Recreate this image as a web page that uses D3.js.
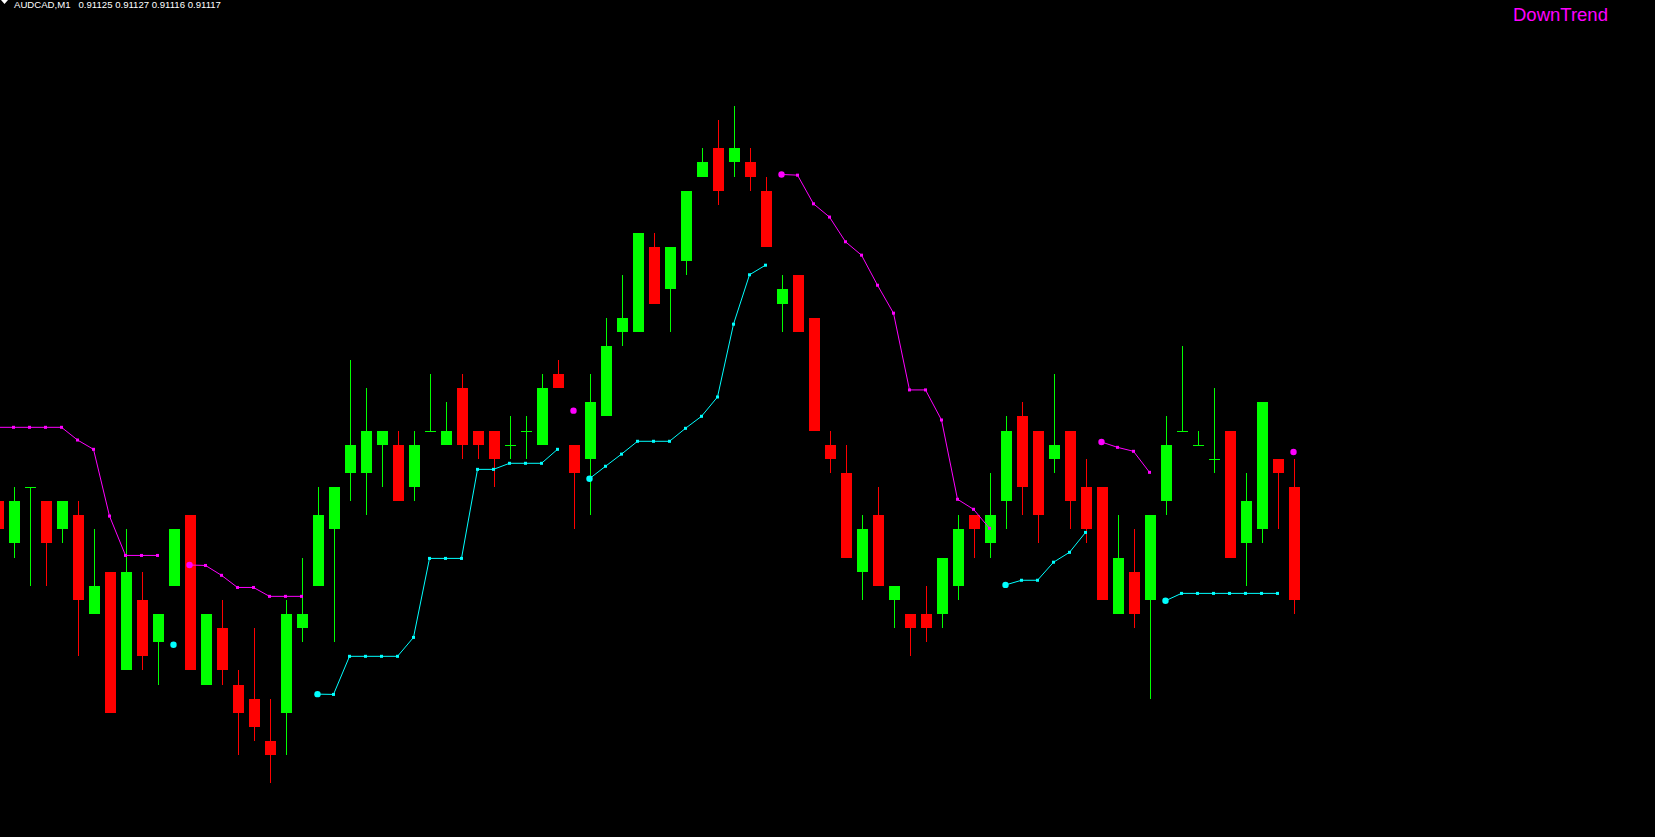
<!DOCTYPE html>
<html>
<head>
<meta charset="utf-8">
<script src="https://cdn.jsdelivr.net/npm/d3@7/dist/d3.min.js"></script>
<style>
  html, body { margin: 0; padding: 0; background: #000; overflow: hidden; }
  svg { display: block; }
</style>
</head>
<body>
<svg id="chart" width="1655" height="837"></svg>
<script>
// ---- data (prices, AUDCAD M1) ----
const symbolLabel = "AUDCAD,M1";
const lastOHLC = ["0.91125", "0.91127", "0.91116", "0.91117"];
const trendLabel = "DownTrend";

const opens = [0.91124,0.91121,0.91125,0.91124,0.91122,0.91123,0.91116,0.91119,0.91112,0.91117,
  0.91114,0.91118,0.91123,0.91111,0.91115,0.91111,0.91110,0.91107,0.91109,0.91115,
  0.91118,0.91122,0.91126,0.91126,0.91128,0.91128,0.91125,0.91129,0.91128,0.91132,
  0.91129,0.91129,0.91128,0.91129,0.91128,0.91133,0.91128,0.91127,0.91130,0.91136,
  0.91136,0.91142,0.91139,0.91141,0.91147,0.91149,0.91148,0.91148,0.91146,0.91138,
  0.91140,0.91137,0.91128,0.91126,0.91119,0.91123,0.91117,0.91116,0.91116,0.91116,
  0.91118,0.91123,0.91121,0.91124,0.91130,0.91129,0.91127,0.91129,0.91125,0.91125,
  0.91116,0.91119,0.91117,0.91124,0.91129,0.91128,0.91127,0.91129,0.91121,0.91122,
  0.91127,0.91125];
const highs = [0.91124,0.91125,0.91125,0.91124,0.91124,0.91124,0.91122,0.91119,0.91122,0.91119,
  0.91116,0.91122,0.91123,0.91116,0.91117,0.91112,0.91115,0.91110,0.91117,0.91120,
  0.91125,0.91125,0.91134,0.91132,0.91129,0.91129,0.91129,0.91133,0.91131,0.91133,
  0.91129,0.91129,0.91130,0.91130,0.91133,0.91134,0.91128,0.91133,0.91137,0.91140,
  0.91143,0.91143,0.91142,0.91146,0.91149,0.91151,0.91152,0.91149,0.91147,0.91140,
  0.91140,0.91137,0.91129,0.91128,0.91123,0.91125,0.91118,0.91116,0.91118,0.91120,
  0.91123,0.91123,0.91126,0.91130,0.91131,0.91129,0.91133,0.91129,0.91127,0.91125,
  0.91123,0.91122,0.91123,0.91130,0.91135,0.91129,0.91132,0.91129,0.91126,0.91131,
  0.91127,0.91127];
const lows = [0.91122,0.91120,0.91118,0.91118,0.91121,0.91113,0.91116,0.91109,0.91112,0.91112,
  0.91111,0.91118,0.91112,0.91111,0.91111,0.91106,0.91107,0.91104,0.91106,0.91114,
  0.91118,0.91114,0.91124,0.91123,0.91125,0.91124,0.91124,0.91129,0.91128,0.91127,
  0.91127,0.91125,0.91127,0.91127,0.91128,0.91132,0.91122,0.91123,0.91130,0.91135,
  0.91136,0.91138,0.91136,0.91140,0.91147,0.91145,0.91147,0.91146,0.91142,0.91136,
  0.91136,0.91129,0.91126,0.91120,0.91117,0.91118,0.91115,0.91113,0.91114,0.91115,
  0.91117,0.91120,0.91120,0.91122,0.91123,0.91121,0.91126,0.91122,0.91121,0.91117,
  0.91116,0.91115,0.91110,0.91123,0.91129,0.91128,0.91126,0.91120,0.91118,0.91121,
  0.91122,0.91116];
const closes = [0.91122,0.91124,0.91125,0.91121,0.91124,0.91117,0.91118,0.91109,0.91119,0.91113,
  0.91116,0.91122,0.91112,0.91116,0.91112,0.91109,0.91108,0.91106,0.91116,0.91116,
  0.91123,0.91125,0.91128,0.91129,0.91129,0.91124,0.91128,0.91129,0.91129,0.91128,
  0.91128,0.91127,0.91128,0.91129,0.91132,0.91132,0.91126,0.91131,0.91135,0.91137,
  0.91143,0.91138,0.91142,0.91146,0.91148,0.91146,0.91149,0.91147,0.91142,0.91139,
  0.91136,0.91129,0.91127,0.91120,0.91122,0.91118,0.91118,0.91115,0.91115,0.91120,
  0.91122,0.91122,0.91123,0.91129,0.91125,0.91123,0.91128,0.91124,0.91122,0.91117,
  0.91120,0.91116,0.91123,0.91128,0.91129,0.91128,0.91127,0.91120,0.91124,0.91131,
  0.91126,0.91117];

// trailing-stop indicator: down trend (magenta, above price) and up trend (cyan, below price)
const downStop = [0.9112923,0.9112923,0.9112923,0.9112923,0.9112923,0.9112833,0.9112767,0.9112294,0.9112015,0.9112015,
  0.9112015,null,0.9111947,0.9111944,0.9111874,0.9111788,0.9111788,0.9111725,0.9111725,0.9111725,
  null,null,null,null,null,null,null,null,null,null,
  null,null,null,null,null,null,0.9113041,null,null,null,
  null,null,null,null,null,null,null,null,null,0.9114715,
  0.9114710,0.9114507,0.9114413,0.9114238,0.9114143,0.9113930,0.9113732,0.9113188,0.9113188,0.9112975,
  0.9112413,0.9112342,0.9112207,null,null,null,null,null,null,0.9112819,
  0.9112781,0.9112753,0.9112604,null,null,null,null,null,null,null,
  null,0.9112748];
const upStop = [null,null,null,null,null,null,null,null,null,null,
  null,0.9111382,null,null,null,null,null,null,null,null,
  0.9111032,0.9111030,0.9111300,0.9111300,0.9111300,0.9111300,0.9111434,0.9111994,0.9111994,0.9111994,
  0.9112625,0.9112625,0.9112668,0.9112668,0.9112668,0.9112767,null,0.9112559,0.9112647,0.9112733,
  0.9112824,0.9112824,0.9112824,0.9112916,0.9113001,0.9113138,0.9113654,0.9114004,0.9114072,null,
  null,null,null,null,null,null,null,null,null,null,
  null,null,null,0.9111806,0.9111839,0.9111839,0.9111967,0.9112037,0.9112178,null,
  null,null,null,0.9111694,0.9111746,0.9111746,0.9111746,0.9111746,0.9111746,0.9111746,
  0.9111746,null];

// ---- drawing ----
const W = 1655, H = 837;
const svg = d3.select("#chart");
svg.append("rect").attr("width", W).attr("height", H).attr("fill", "#000");

const bars = opens.map((o, i) => ({ i, o, h: highs[i], l: lows[i], c: closes[i] }));

const x = d3.scaleLinear().domain([0, bars.length - 1]).range([-1.5, 1294.5]);
const y = d3.scaleLinear().domain([0.91100, 0.91160]).range([839.75, -6.85]);

const BULL = "#00ff00", BEAR = "#ff0000";
const bodyW = 11;

const g = svg.append("g").attr("shape-rendering", "crispEdges");

// wicks
g.selectAll("line.wick").data(bars).join("line")
  .attr("class", "wick")
  .attr("x1", d => x(d.i)).attr("x2", d => x(d.i))
  .attr("y1", d => Math.round(y(d.h))).attr("y2", d => Math.round(y(d.l)))
  .attr("stroke", d => d.c >= d.o ? BULL : BEAR)
  .attr("stroke-width", 1);

// bodies
g.selectAll("rect.body").data(bars).join("rect")
  .attr("class", "body")
  .attr("x", d => x(d.i) - bodyW / 2)
  .attr("width", bodyW)
  .attr("y", d => Math.round(y(Math.max(d.o, d.c))))
  .attr("height", d => Math.max(1, Math.round(y(Math.min(d.o, d.c))) - Math.round(y(Math.max(d.o, d.c)))))
  .attr("fill", d => d.c >= d.o ? BULL : BEAR);

// indicator
function drawStop(values, color) {
  const pts = values.map((v, i) => ({ i, v }));
  const line = d3.line()
    .defined(d => d.v !== null)
    .x(d => x(d.i) - 1)
    .y(d => y(d.v));
  svg.append("path")
    .datum(pts)
    .attr("d", line)
    .attr("fill", "none")
    .attr("stroke", color)
    .attr("stroke-width", 1);
  const valid = pts.filter(d => d.v !== null);
  const starts = valid.filter(d => d.i === 0 ? false : values[d.i - 1] === null);
  const rest = valid.filter(d => !(d.i !== 0 && values[d.i - 1] === null));
  svg.append("g").selectAll("rect").data(rest).join("rect")
    .attr("x", d => x(d.i) - 2.5).attr("y", d => y(d.v) - 1.5)
    .attr("width", 3).attr("height", 3)
    .attr("fill", color);
  svg.append("g").selectAll("circle").data(starts).join("circle")
    .attr("cx", d => x(d.i) - 1).attr("cy", d => y(d.v))
    .attr("r", 3.2)
    .attr("fill", color);
}
drawStop(downStop, "#ff00ff");
drawStop(upStop, "#00ffff");

// header text
svg.append("path").attr("d", "M1,0 L8,0 L4.5,4 Z").attr("fill", "#fff");
svg.append("text")
  .attr("x", 14).attr("y", 7.5)
  .attr("fill", "#ffffff")
  .attr("font-family", "Liberation Sans, Arial, sans-serif")
  .attr("font-size", 9.6)
  .style("white-space", "pre")
  .attr("xml:space", "preserve")
  .text(symbolLabel + "   " + lastOHLC.join(" "));

svg.append("text")
  .attr("x", 1513).attr("y", 21)
  .attr("fill", "#ff00ff")
  .attr("font-family", "Liberation Sans, Arial, sans-serif")
  .attr("font-size", 18.5)
  .text(trendLabel);
</script>
</body>
</html>
